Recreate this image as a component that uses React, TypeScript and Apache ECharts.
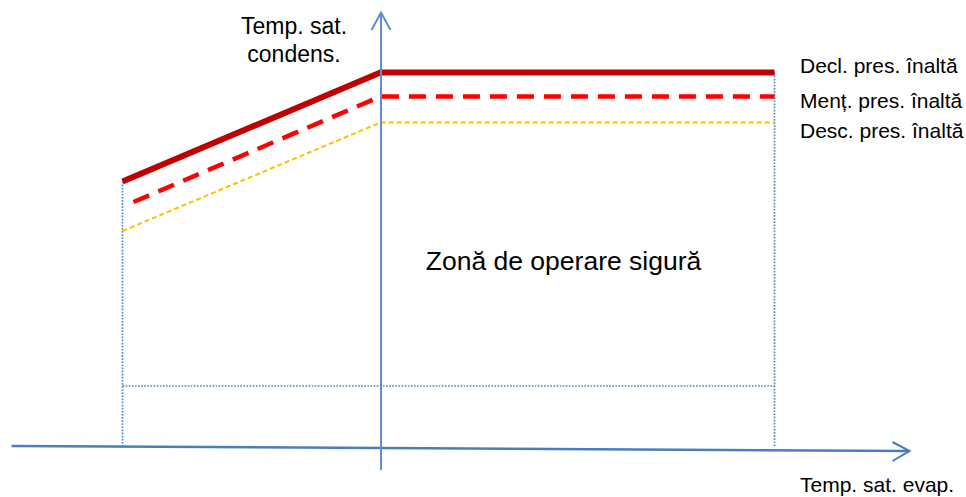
import React, { useEffect, useRef } from "react";
import * as echarts from "echarts";

// Evaporating saturation temperature (schematic units): left limit, axis, right limit
const evapX = [-25.8, 0, 39.4];
// Condensing saturation temperature curves (schematic units)
const declHigh = [26.65, 37.55, 37.55]; // Decl. pres. înaltă
const mentHighX = [-24.7, 0, 39.4];
const mentHigh = [24.6, 35.15, 35.15]; // Menț. pres. înaltă
const descHigh = [21.7, 32.55, 32.55]; // Desc. pres. înaltă
const safeFloor = 6.2; // lower bound of the safe zone
// Axis extents
const evapAxisX = [-36.9, 52.9];
const evapAxisY = [0.2, -0.3];
const condAxisY = [-2.2, 43.55];

const labels = ["Decl. pres. înaltă", "Menț. pres. înaltă", "Desc. pres. înaltă"];

const FONT = "'Liberation Sans', Arial, Helvetica, sans-serif";
const AXIS_H = "#4A7DBC";
const AXIS_V = "#5B8ED3";
const DOT = "#5588CC";

function txt(text: string, x: number, y: number, size: number, align = "left") {
  return {
    type: "text",
    x,
    y,
    silent: true,
    z: 10,
    style: {
      text,
      fill: "#000",
      fontSize: size,
      fontFamily: FONT,
      align,
      textAlign: align,
      verticalAlign: "middle",
      textVerticalAlign: "middle",
    },
  };
}

export default function App() {
  const ref = useRef<HTMLDivElement>(null);
  useEffect(() => {
    document.body.style.margin = "0";
    const chart = echarts.init(ref.current!, null, { renderer: "svg" });
    const line = (data: number[][], color: string, width: number, type: any, z = 2) => ({
      type: "line",
      data,
      symbol: "none",
      silent: true,
      z,
      lineStyle: { color, width, type, cap: "butt", join: "miter" },
    });
    const lb = evapX[0];
    const rb = evapX[2];
    const dotted = [1.7, 1.4];
    const vTip = [0, condAxisY[1]];
    const hTip = [evapAxisX[1], evapAxisY[1]];
    chart.setOption({
      animation: false,
      grid: { left: 0, right: 0, top: 0, bottom: 0 },
      xAxis: { type: "value", min: -38.05, max: 58.55, show: false },
      yAxis: { type: "value", min: -4.9, max: 44.8, show: false },
      series: [
        // dotted safe-zone boundaries
        line([[lb, declHigh[0]], [lb, evapAxisY[0]]], DOT, 1.7, dotted, 1),
        line([[rb, declHigh[2]], [rb, 0.1]], DOT, 1.7, dotted, 1),
        line([[lb, safeFloor], [rb, safeFloor]], DOT, 1.7, dotted, 1),
        // pressure curves
        line(evapX.map((x, i) => [x, descHigh[i]]), "#FFC000", 2, [5, 3], 2),
        line(mentHighX.map((x, i) => [x, mentHigh[i]]), "#FF0000", 4.5, [17, 10], 3),
        line(evapX.map((x, i) => [x, declHigh[i]]), "#C00000", 6, "solid", 4),
        // axes
        line([[evapAxisX[0], evapAxisY[0]], [evapAxisX[1], evapAxisY[1]]], AXIS_H, 2.5, "solid", 5),
        line([[hTip[0] - 1.7, hTip[1] + 0.9], hTip, [hTip[0] - 1.7, hTip[1] - 1.0]], AXIS_H, 2, "solid", 5),
        line([[0.05, condAxisY[0]], [0.05, condAxisY[1]]], AXIS_V, 2, "solid", 6),
        line([[-0.9, vTip[1] - 1.75], [0.05, vTip[1]], [1.0, vTip[1] - 1.75]], AXIS_V, 2, "solid", 6),
      ],
      graphic: [
        txt("Temp. sat.", 294, 26, 23, "center"),
        txt("condens.", 294, 54, 23, "center"),
        txt(labels[0], 800, 65.5, 21),
        txt(labels[1], 800, 100.5, 21),
        txt(labels[2], 800, 130.5, 21),
        txt("Zonă de operare sigură", 563.5, 260.5, 26.5, "center"),
        txt("Temp. sat. evap.", 800, 484, 21),
      ],
    });
    return () => chart.dispose();
  }, []);
  return <div ref={ref} style={{ width: 966, height: 497 }} />;
}
